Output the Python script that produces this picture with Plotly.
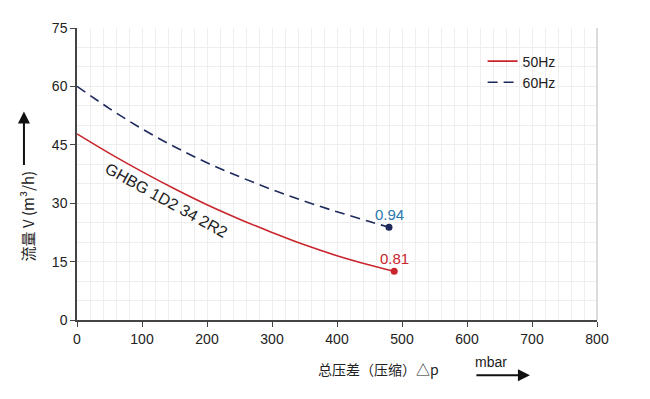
import plotly.graph_objects as go

x50 = [0, 50, 100, 150, 200, 250, 300, 350, 400, 450, 488]
y50 = [47.8, 42.8, 38.1, 33.7, 29.6, 25.9, 22.5, 19.3, 16.5, 14.1, 12.5]
x60 = [0, 50, 100, 150, 200, 250, 300, 350, 400, 450, 480]
y60 = [60.0, 54.3, 49.1, 44.5, 40.4, 36.8, 33.5, 30.5, 27.8, 25.3, 23.8]
eff50 = "0.81"
eff60 = "0.94"
series_names = ["50Hz", "60Hz"]
model_label = "GHBG 1D2 34 2R2"

RED = "#c9252c"
NAVY = "#1f2a5c"
FONT = "Liberation Sans, Arial, sans-serif"
CJK = "Noto Sans CJK SC, " + FONT

fig = go.Figure()
fig.add_trace(go.Scatter(x=x50, y=y50, mode="lines", name=series_names[0],
                         line=dict(color=RED, width=1.6, shape="spline", smoothing=1.0)))
fig.add_trace(go.Scatter(x=x60, y=y60, mode="lines", name=series_names[1],
                         line=dict(color=NAVY, width=1.6, dash="10px,6px", shape="spline", smoothing=1.0)))
fig.add_trace(go.Scatter(x=[x50[-1]], y=[y50[-1]], mode="markers", showlegend=False,
                         marker=dict(color=RED, size=7)))
fig.add_trace(go.Scatter(x=[x60[-1]], y=[y60[-1]], mode="markers", showlegend=False,
                         marker=dict(color=NAVY, size=7)))

fig.add_annotation(x=x60[-1], y=y60[-1], text=eff60, showarrow=False, yshift=13,
                   font=dict(color="#2a78b0", size=15, family=FONT))
fig.add_annotation(x=x50[-1], y=y50[-1], text=eff50, showarrow=False, yshift=13,
                   font=dict(color=RED, size=15, family=FONT))
fig.add_annotation(x=138, y=30.8, text=model_label, showarrow=False, textangle=29,
                   font=dict(color="#222", size=16, family=FONT))

# axis titles and arrows
fig.add_annotation(xref="paper", yref="paper", x=-0.096, y=0.355, text="流量 V (m³/h)",
                   textangle=-90, showarrow=False, xanchor="center", yanchor="middle",
                   font=dict(size=15, color="#222", family=CJK))
fig.add_annotation(xref="paper", yref="paper", x=-0.102, y=0.714, text="", showarrow=True,
                   ax=0, ay=55, arrowhead=2, arrowsize=1.2, arrowwidth=2, arrowcolor="#111")
fig.add_annotation(xref="paper", yref="paper", x=0.579, y=-0.168, text="总压差（压缩）△p",
                   showarrow=False, xanchor="center", yanchor="middle",
                   font=dict(size=14, color="#222", family=CJK))
fig.add_annotation(xref="paper", yref="paper", x=0.796, y=-0.145, text="mbar",
                   showarrow=False, xanchor="center", yanchor="middle",
                   font=dict(size=14, color="#222", family=FONT))
fig.add_annotation(xref="paper", yref="paper", x=0.871, y=-0.189, text="", showarrow=True,
                   ax=-55, ay=0, arrowhead=2, arrowsize=1.2, arrowwidth=2, arrowcolor="#111")

fig.add_shape(type="line", xref="paper", yref="paper", x0=1, x1=1, y0=0, y1=1,
              line=dict(color="#cfcfcf", width=1.5))

grid = "#eeeeee"
fig.update_xaxes(range=[0, 800], dtick=100, showgrid=True, gridcolor=grid, gridwidth=1,
                 minor=dict(dtick=20, showgrid=True, gridcolor=grid, gridwidth=1),
                 showline=True, linecolor="#444", linewidth=1.5, ticks="outside",
                 ticklen=5, tickcolor="#444", zeroline=False,
                 tickfont=dict(size=14, color="#222", family=FONT))
fig.update_yaxes(range=[0, 75], dtick=15, showgrid=True, gridcolor=grid, gridwidth=1,
                 minor=dict(dtick=5, showgrid=True, gridcolor=grid, gridwidth=1),
                 showline=True, linecolor="#444", linewidth=1.5, ticks="outside",
                 ticklen=5, tickcolor="#444", zeroline=False,
                 tickfont=dict(size=14, color="#222", family=FONT))

fig.update_layout(width=642, height=391, margin=dict(l=69, r=53, t=15, b=79),
                  paper_bgcolor="white", plot_bgcolor="white",
                  font=dict(family=FONT),
                  legend=dict(x=0.78, y=0.94, xanchor="left", yanchor="top",
                              bgcolor="rgba(0,0,0,0)", font=dict(size=14, color="#222")))

fig.write_html("out.html")
